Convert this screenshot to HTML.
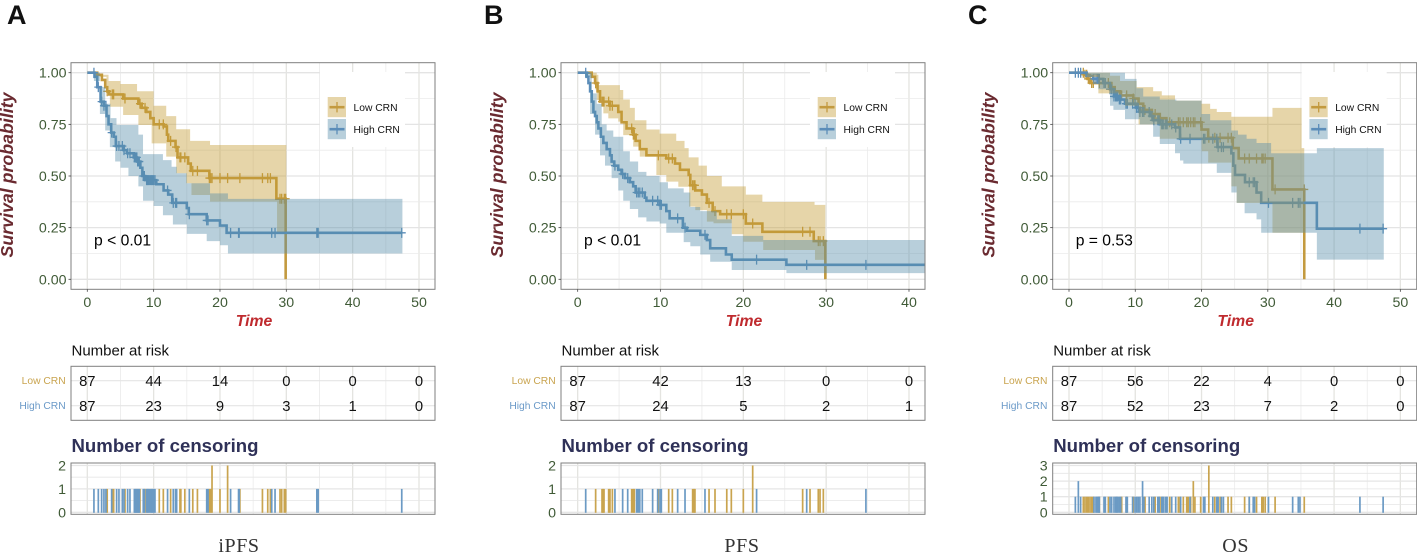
<!DOCTYPE html>
<html>
<head>
<meta charset="utf-8">
<title>Survival curves by CRN group</title>
<style>
html,body{margin:0;padding:0;background:#fff;width:1417px;height:555px;overflow:hidden}
svg{display:block;filter:blur(0.3px)}
text{font-family:"Liberation Sans",sans-serif}
.ser{font-family:"Liberation Serif",serif;font-size:20px;fill:#333;text-anchor:middle;letter-spacing:.6px}
.letter{font-size:27px;font-weight:bold;fill:#111}
.ytitle{font-size:17.8px;font-weight:bold;font-style:italic;fill:#6a2a30;text-anchor:middle}
.xtitle{font-size:15.8px;font-weight:bold;font-style:italic;fill:#bf2a2e;text-anchor:middle}
.risk-title{font-size:15px;fill:#111}
.cens-title{font-size:18.6px;font-weight:bold;fill:#2f3158}
.pval{font-size:15.7px;fill:#000}
.leg{font-size:10.3px;fill:#111}
.rl{font-size:10.3px;text-anchor:end}
</style>
</head>
<body>
<svg id="fig" width="1417" height="555" viewBox="0 0 1417 555" xmlns="http://www.w3.org/2000/svg">
  <defs>
    <clipPath id="clip-plot"><rect x="71" y="62.7" width="364" height="226.6"/></clipPath>
  </defs>
  <text class="letter" x="7" y="24">A</text>
  <text class="letter" x="484" y="24">B</text>
  <text class="letter" x="968" y="24">C</text>
  <g id="panel-a" transform="translate(0,0)">
    <text class="ytitle" transform="translate(13,175) rotate(-90)">Survival probability</text>
    <text class="xtitle" x="254" y="326">Time</text>
    <text class="risk-title" x="71.5" y="355.5">Number at risk</text>
    <text class="cens-title" x="71.5" y="452">Number of censoring</text>
    <text class="rl" x="65.7" y="384" fill="#c9a44f">Low CRN</text>
    <text class="rl" x="65.7" y="409" fill="#6b9ac8">High CRN</text>
    <text class="ser" x="239" y="552">iPFS</text>
  </g>
  <g id="panel-b" transform="translate(490,0)">
    <text class="ytitle" transform="translate(13,175) rotate(-90)">Survival probability</text>
    <text class="xtitle" x="254" y="326">Time</text>
    <text class="risk-title" x="71.5" y="355.5">Number at risk</text>
    <text class="cens-title" x="71.5" y="452">Number of censoring</text>
    <text class="rl" x="65.7" y="384" fill="#c9a44f">Low CRN</text>
    <text class="rl" x="65.7" y="409" fill="#6b9ac8">High CRN</text>
    <text class="ser" x="252" y="552">PFS</text>
  </g>
  <g id="panel-c" transform="translate(981.7,0)">
    <text class="ytitle" transform="translate(13,175) rotate(-90)">Survival probability</text>
    <text class="xtitle" x="254" y="326">Time</text>
    <text class="risk-title" x="71.5" y="355.5">Number at risk</text>
    <text class="cens-title" x="71.5" y="452">Number of censoring</text>
    <text class="rl" x="65.7" y="384" fill="#c9a44f">Low CRN</text>
    <text class="rl" x="65.7" y="409" fill="#6b9ac8">High CRN</text>
    <text class="ser" x="254" y="552">OS</text>
  </g>
</svg>
<script>
/* ---------- shared axis labels ---------- */
const survivalTicks = [0, 0.25, 0.5, 0.75, 1];
const survivalTickLabels = ["0.00", "0.25", "0.50", "0.75", "1.00"];

/* ---------- Panel A: iPFS ---------- */
const aTimeTicks = [0, 10, 20, 30, 40, 50];
const aRiskLow = [87, 44, 14, 0, 0, 0];
const aRiskHigh = [87, 23, 9, 3, 1, 0];
const aCensorTicks = [0, 1, 2];
const aLowT = [1.5, 2.2, 2.7, 3, 3.3, 5.4, 7.7, 8.2, 8.9, 9.5, 10, 11.5, 12, 12.2, 13.3, 13.6, 15.2, 15.6, 18.4, 28.5, 29.9];
const aLowS = [0.99, 0.965, 0.93, 0.91, 0.895, 0.875, 0.85, 0.83, 0.81, 0.78, 0.75, 0.74, 0.7, 0.67, 0.64, 0.59, 0.56, 0.525, 0.49, 0.39, 0];
const aHighT = [1.1, 1.5, 2, 2.5, 2.9, 3.2, 3.6, 4, 4.3, 5.5, 6, 7, 7.5, 8, 8.3, 8.7, 10.4, 11.5, 12.2, 12.8, 15, 15.3, 18, 20, 21, 47.5];
const aHighS = [0.98, 0.93, 0.86, 0.84, 0.79, 0.75, 0.71, 0.69, 0.645, 0.625, 0.61, 0.59, 0.57, 0.54, 0.5, 0.48, 0.46, 0.43, 0.41, 0.37, 0.345, 0.315, 0.285, 0.26, 0.225, 0.225];
const aLowUpT = [0, 1.9, 3.2, 5, 7.5, 10, 11.9, 13.4, 15.5, 18.5, 30];
const aLowUp = [1, 0.99, 0.96, 0.945, 0.91, 0.84, 0.79, 0.726, 0.67, 0.65, 0.65];
const aLowLoT = [0, 1.9, 2.9, 3.4, 5.4, 7.7, 9.7, 11.9, 13.4, 14.9, 15.7, 18.5, 28.6, 30];
const aLowLo = [1, 0.98, 0.9, 0.835, 0.795, 0.747, 0.658, 0.594, 0.513, 0.465, 0.408, 0.376, 0.23, 0.23];
const aHighUpT = [0, 1.9, 2.7, 3.5, 4.4, 7.7, 8.4, 11.4, 12.7, 13.5, 15, 18.5, 21.2, 47.5];
const aHighUp = [1, 0.93, 0.85, 0.78, 0.747, 0.7, 0.606, 0.577, 0.545, 0.513, 0.465, 0.416, 0.389, 0.389];
const aHighLoT = [0, 1, 1.9, 2.7, 3.4, 4.2, 5, 6.2, 7.7, 8.4, 10, 11.4, 12.9, 15, 18, 20, 21.2, 47.5];
const aHighLo = [1, 0.96, 0.8, 0.72, 0.64, 0.57, 0.54, 0.5, 0.45, 0.38, 0.355, 0.31, 0.265, 0.22, 0.185, 0.165, 0.125, 0.125];
const aLowCensor = [3, 3.77, 3.97, 5.68, 7.94, 8.7, 10.85, 11.46, 12.56, 13.37, 13.97, 14.1, 14.7, 15.9, 16.6, 18.4, 18.6, 18.8, 18.8, 20, 21.15, 21.15, 23, 26.4, 27.2, 27.6, 29.05, 29.3, 29.7, 29.9];
const aHighCensor = [1, 1.66, 2.16, 2.51, 2.81, 3.67, 4.42, 4.77, 5.28, 5.53, 6.08, 6.43, 7.09, 7.22, 7.34, 7.47, 7.59, 7.72, 7.84, 8.44, 8.6, 8.94, 9.05, 9.2, 9.35, 9.55, 9.7, 9.85, 10, 10.2, 12.1, 12.96, 13.3, 13.47, 15.38, 18, 18.2, 21.6, 22.8, 22.9, 27.8, 28.3, 34.6, 34.8, 47.4];

/* ---------- Panel B: PFS ---------- */
const bTimeTicks = [0, 10, 20, 30, 40];
const bRiskLow = [87, 42, 13, 0, 0];
const bRiskHigh = [87, 24, 5, 2, 1];
const bCensorTicks = [0, 1, 2];
const bLowT = [1.5, 1.7, 2.1, 2.4, 2.7, 3.9, 4.9, 5.3, 5.9, 6.7, 7, 7.5, 8.3, 10.7, 11.75, 12.35, 13.4, 13.6, 14.2, 15, 15.6, 16.3, 17.2, 20.3, 22.3, 28.5, 29.9];
const bLowS = [1, 0.98, 0.95, 0.91, 0.86, 0.84, 0.81, 0.76, 0.73, 0.7, 0.67, 0.63, 0.6, 0.585, 0.56, 0.53, 0.505, 0.455, 0.43, 0.41, 0.37, 0.33, 0.315, 0.27, 0.23, 0.185, 0];
const bHighT = [0.9, 1.1, 1.3, 1.5, 1.7, 1.9, 2.1, 2.3, 2.5, 2.8, 3.1, 3.5, 3.9, 4.1, 4.4, 4.9, 5.3, 5.7, 6.3, 6.7, 7, 8.1, 8.3, 9.9, 10.7, 11.1, 12.7, 13.2, 14.8, 15.6, 16, 17.9, 18.6, 25.2, 42];
const bHighS = [1, 0.98, 0.95, 0.91, 0.86, 0.81, 0.79, 0.76, 0.73, 0.69, 0.66, 0.63, 0.6, 0.57, 0.55, 0.53, 0.51, 0.49, 0.47, 0.45, 0.42, 0.395, 0.38, 0.36, 0.33, 0.295, 0.25, 0.235, 0.215, 0.19, 0.15, 0.12, 0.095, 0.07, 0.07];
const bLowUpT = [0, 2.3, 2.5, 5.1, 5.5, 6.3, 6.9, 8.3, 9.9, 11.9, 12.9, 13.4, 14.6, 15.6, 17.4, 20.3, 22.3, 28.6, 29.9];
const bLowUp = [1, 0.99, 0.94, 0.916, 0.87, 0.83, 0.77, 0.725, 0.705, 0.67, 0.635, 0.59, 0.55, 0.5, 0.45, 0.41, 0.375, 0.36, 0.36];
const bLowLoT = [0, 1.7, 2.1, 2.3, 3.1, 3.7, 4.9, 5.5, 6.7, 7.5, 9.5, 10.7, 12.15, 13.45, 14.2, 15.6, 16.4, 18.6, 20, 22.4, 28.65, 29.9];
const bLowLo = [1, 0.98, 0.92, 0.868, 0.803, 0.779, 0.763, 0.698, 0.642, 0.594, 0.505, 0.473, 0.448, 0.352, 0.335, 0.279, 0.271, 0.218, 0.182, 0.142, 0.094, 0.094];
const bHighUpT = [0, 1.7, 2.3, 2.9, 3.5, 4.3, 5.5, 6.3, 7.3, 8.3, 9.9, 10.9, 12.8, 13.6, 14.8, 16.8, 18.6, 22.4, 42];
const bHighUp = [1, 0.9, 0.85, 0.75, 0.72, 0.69, 0.62, 0.57, 0.52, 0.5, 0.47, 0.44, 0.42, 0.35, 0.33, 0.29, 0.21, 0.19, 0.19];
const bHighLoT = [0, 0.9, 1.5, 2.1, 2.7, 3.3, 4.1, 4.9, 5.5, 6.3, 7.3, 8.3, 9.9, 10.7, 12.8, 13.6, 14.8, 16, 18.6, 25.2, 42];
const bHighLo = [1, 0.98, 0.8, 0.7, 0.6, 0.55, 0.49, 0.43, 0.38, 0.34, 0.3, 0.28, 0.27, 0.225, 0.18, 0.16, 0.12, 0.085, 0.045, 0.03, 0.03];
const bLowCensor = [2.17, 2.94, 3.06, 3.18, 3.74, 3.9, 4.19, 6.52, 6.72, 6.84, 9.74, 10.99, 11.43, 13.88, 14.04, 14.16, 15.86, 16.58, 18, 18.55, 20, 21.13, 21.13, 27.16, 28.05, 29.05, 29.26, 29.66];
const bHighCensor = [0.97, 4.5, 5.43, 6.04, 7.12, 7.32, 7.5, 7.8, 9.05, 9.66, 9.94, 10.1, 12.07, 12.96, 15.37, 21.6, 27.65, 34.8];

/* ---------- Panel C: OS ---------- */
const cTimeTicks = [0, 10, 20, 30, 40, 50];
const cRiskLow = [87, 56, 22, 4, 0, 0];
const cRiskHigh = [87, 52, 23, 7, 2, 0];
const cCensorTicks = [0, 1, 2, 3];
const cLowT = [2.4, 2.8, 3.2, 6.4, 6.9, 7.7, 9.7, 10.5, 11.2, 12.5, 13.7, 14.7, 20, 21, 24.7, 25.6, 30.7, 35.5];
const cLowS = [0.99, 0.97, 0.95, 0.93, 0.91, 0.89, 0.875, 0.85, 0.82, 0.8, 0.78, 0.76, 0.725, 0.685, 0.635, 0.585, 0.435, 0];
const cHighT = [2.67, 3.67, 5.18, 6.19, 6.79, 7.44, 8.45, 10.2, 10.7, 12.2, 12.7, 13.7, 16, 16.75, 22.4, 24.5, 24.8, 25.05, 26.56, 28.3, 29, 37.4, 47.5];
const cHighS = [0.985, 0.97, 0.95, 0.92, 0.885, 0.87, 0.85, 0.83, 0.81, 0.79, 0.77, 0.75, 0.735, 0.68, 0.64, 0.61, 0.55, 0.505, 0.47, 0.42, 0.37, 0.245, 0.245];
const cLowUpT = [1.8, 6.19, 7.7, 10.2, 12.7, 14, 16, 20, 21.3, 22.3, 24.5, 30.7, 35.1, 35.5];
const cLowUp = [1, 0.985, 0.96, 0.93, 0.91, 0.89, 0.865, 0.85, 0.825, 0.81, 0.787, 0.83, 0.635, 0.635];
const cLowLoT = [1.8, 2.67, 4.43, 8.45, 10.5, 13.7, 20, 21, 24.5, 25.3, 30.7, 35.5];
const cLowLo = [1, 0.98, 0.9, 0.84, 0.75, 0.68, 0.62, 0.565, 0.45, 0.37, 0.225, 0.225];
const cHighUpT = [0.9, 8.45, 10.2, 11.2, 13.7, 16.2, 20, 21.3, 24.5, 25.5, 26.8, 28.3, 30.5, 37.4, 47.5];
const cHighUp = [1, 0.97, 0.925, 0.885, 0.87, 0.865, 0.8, 0.77, 0.72, 0.7, 0.68, 0.66, 0.61, 0.635, 0.635];
const cHighLoT = [0.9, 2.16, 4.43, 6.19, 6.7, 8.45, 10.7, 12.7, 13.7, 16, 16.75, 17.25, 22.3, 24.5, 25.3, 26.5, 28.3, 29, 37.4, 47.5];
const cHighLo = [1, 0.99, 0.92, 0.84, 0.82, 0.775, 0.75, 0.69, 0.655, 0.61, 0.575, 0.56, 0.515, 0.42, 0.37, 0.32, 0.29, 0.225, 0.095, 0.095];
const cLowCensor = [2.16, 2.41, 2.67, 2.92, 3.17, 3.42, 3.67, 4.58, 5.94, 7.95, 8.7, 9.7, 11.47, 13, 13.73, 15.2, 16.5, 16.75, 17.25, 17.76, 18, 18.36, 18.76, 18.76, 19, 19.87, 21.1, 21.1, 21.1, 22, 22.8, 24, 24.5, 26.5, 27.2, 28.3, 29.1, 29.3, 29.6, 31.1, 35.5];
const cHighCensor = [0.96, 1.41, 1.41, 1.76, 3.77, 4.07, 4.28, 4.43, 4.58, 5.28, 5.48, 6.19, 6.44, 6.79, 7.04, 7.19, 7.34, 7.6, 7.8, 8.6, 8.8, 9.6, 9.96, 10.2, 10.46, 10.7, 11.1, 11.1, 11.3, 12.1, 12.5, 12.8, 13.4, 13.6, 14, 14.1, 14.3, 14.6, 14.8, 15.5, 16.1, 16.85, 18.26, 20.3, 20.5, 21.7, 22.3, 22.5, 23, 23.3, 27.2, 27.8, 28, 30.1, 33.75, 34.6, 34.85, 43.9, 47.4];

/* ---------- drawing ---------- */
const NS = "http://www.w3.org/2000/svg";
const GOLD = "#c39a3f", BLUE = "#5b8db9";
const GOLD_BAND = "rgba(196,154,50,.42)", BLUE_BAND = "rgba(85,140,170,.42)";
const PLOT = {l: 71, r: 435, t: 62.7, b: 289.3};
const RISK = {t: 366.3, b: 420.3, low: 380.7, high: 405.7};
const CENS = {t: 463, b: 514.3, y0: 512.3};

function mk(parent, tag, attrs, name, text) {
  const el = document.createElementNS(NS, tag);
  for (const k in attrs) el.setAttribute(k, attrs[k]);
  
  
  if (text !== undefined) el.textContent = text;
  parent.appendChild(el);
  return el;
}
function stepLine(t, s, xf, yf, start) {
  let d = "M" + xf(start) + " " + yf(1);
  for (let i = 0; i < t.length; i++) d += "H" + xf(t[i]).toFixed(2) + "V" + yf(s[i]).toFixed(2);
  return d;
}
function bandPath(upT, up, loT, lo, xf, yf) {
  let d = "M" + xf(upT[0]).toFixed(2) + " " + yf(up[0]).toFixed(2);
  for (let i = 1; i < upT.length; i++) d += "H" + xf(upT[i]).toFixed(2) + "V" + yf(up[i]).toFixed(2);
  const end = loT.length - 1;
  d += "V" + yf(lo[end]).toFixed(2);
  for (let i = end - 1; i >= 0; i--) d += "H" + xf(loT[i + 1]).toFixed(2) + "V" + yf(lo[i]).toFixed(2);
  d += "H" + xf(loT[0]).toFixed(2) + "Z";
  return d;
}
function survAt(t, times, vals) {
  let v = 1;
  for (let i = 0; i < times.length; i++) { if (times[i] <= t) { if (vals[i] > 0) v = vals[i]; } else break; }
  return v;
}
function counts(arr) {
  const m = new Map();
  arr.forEach(v => m.set(v, (m.get(v) || 0) + 1));
  return m;
}
function vGrid(g, ticks, xf, minorStep, xMax, top, bot) {
  for (let v = minorStep; v <= xMax; v += 2 * minorStep) {
    const x = xf(v);
    if (x < PLOT.r) mk(g, "line", {x1: x, x2: x, y1: top, y2: bot, stroke: "#ebebeb", "stroke-width": 0.8}, "minor-gridline");
  }
  ticks.forEach(v => {
    mk(g, "line", {x1: xf(v), x2: xf(v), y1: top, y2: bot, stroke: "#e4e4e0", "stroke-width": 1.3}, "major-gridline");
  });
}

function drawPanel(id, cfg) {
  const g = document.getElementById(id);
  const xf = v => cfg.x0 + v * cfg.ux;
  const yf = v => 279.3 - v * 206.6;

  /* survival plot grid */
  const grid = mk(g, "g", {}, "survival-grid");
  vGrid(grid, cfg.ticks, xf, 5, cfg.xMax, PLOT.t, PLOT.b);
  [0.125, 0.375, 0.625, 0.875].forEach(v => {
    mk(grid, "line", {x1: PLOT.l, x2: PLOT.r, y1: yf(v), y2: yf(v), stroke: "#ebebeb", "stroke-width": 0.8}, "minor-gridline");
  });
  survivalTicks.forEach(v => {
    mk(grid, "line", {x1: PLOT.l, x2: PLOT.r, y1: yf(v), y2: yf(v), stroke: "#e4e4e4", "stroke-width": 1.3}, "major-gridline");
  });
  mk(g, "rect", {x: 320, y: 72, width: 85, height: 75, fill: "#fff"}, "legend-background");

  /* series */
  const series = mk(g, "g", {"clip-path": "url(#clip-plot)"}, "survival-series");
  [[cfg.lowT, cfg.lowS, cfg.lowC, GOLD, "low-crn"], [cfg.highT, cfg.highS, cfg.highC, BLUE, "high-crn"]].forEach(s => {
    mk(series, "path", {d: stepLine(s[0], s[1], xf, yf, 0), fill: "none", stroke: s[3], "stroke-width": 2.6}, s[4] + "-survival-line");
    counts(s[2]).forEach((n, t) => {
      const y = yf(survAt(t, s[0], s[1]));
      const x = xf(t);
      mk(series, "path", {d: "M" + (x - 4) + " " + y + "H" + (x + 4) + "M" + x + " " + (y - 5) + "V" + (y + 5), fill: "none", stroke: s[3], "stroke-width": 1.3}, s[4] + "-censor-mark");
    });
  });
  mk(series, "path", {d: bandPath(cfg.lowUpT, cfg.lowUp, cfg.lowLoT, cfg.lowLo, xf, yf), fill: GOLD_BAND}, "low-crn-confidence-band");
  mk(series, "path", {d: bandPath(cfg.highUpT, cfg.highUp, cfg.highLoT, cfg.highLo, xf, yf), fill: BLUE_BAND}, "high-crn-confidence-band");

  /* frame and axes */
  mk(g, "rect", {x: PLOT.l, y: PLOT.t, width: PLOT.r - PLOT.l, height: PLOT.b - PLOT.t, fill: "none", stroke: "#7f7f7f", "stroke-width": 1}, "plot-frame");
  survivalTicks.forEach((v, i) => {
    mk(g, "line", {x1: PLOT.l - 2.5, x2: PLOT.l, y1: yf(v), y2: yf(v), stroke: "#444", "stroke-width": 0.8}, "y-axis-tick");
    mk(g, "text", {x: 66.5, y: yf(v) + 5, "text-anchor": "end", "font-size": 14.2, fill: "#3f5a36"}, "y-tick-label", survivalTickLabels[i]);
  });
  cfg.ticks.forEach(v => {
    mk(g, "line", {x1: xf(v), x2: xf(v), y1: PLOT.b, y2: PLOT.b + 2.5, stroke: "#444", "stroke-width": 0.8}, "x-axis-tick");
    mk(g, "text", {x: xf(v), y: 307, "text-anchor": "middle", "font-size": 14.2, fill: "#3f5a36"}, "x-tick-label", String(v));
  });
  mk(g, "text", {class: "pval", x: 94, y: 245.5}, "p-value", cfg.p);

  /* legend */
  [["Low CRN", 97, GOLD, GOLD_BAND, "legend-low-crn"], ["High CRN", 119, BLUE, BLUE_BAND, "legend-high-crn"]].forEach(l => {
    const e = mk(g, "g", {}, l[4]);
    mk(e, "rect", {x: 327.7, y: l[1], width: 18.3, height: 20.2, fill: l[3]}, "legend-key");
    mk(e, "path", {d: "M329.5 " + (l[1] + 10.2) + "H344.5", stroke: l[2], "stroke-width": 2.6, fill: "none"}, "legend-line");
    mk(e, "path", {d: "M337 " + (l[1] + 5) + "V" + (l[1] + 15.4), stroke: l[2], "stroke-width": 1.3, fill: "none"}, "legend-mark");
    mk(e, "text", {class: "leg", x: 353.5, y: l[1] + 14}, "legend-label", l[0]);
  });

  /* risk table */
  const risk = mk(g, "g", {}, "risk-table");
  vGrid(risk, cfg.ticks, xf, 5, cfg.xMax, RISK.t, RISK.b);
  [RISK.low, RISK.high].forEach(y => {
    mk(risk, "line", {x1: PLOT.l, x2: PLOT.r, y1: y, y2: y, stroke: "#e4e4e4", "stroke-width": 1.2}, "risk-row-gridline");
  });
  mk(risk, "rect", {x: PLOT.l, y: RISK.t, width: PLOT.r - PLOT.l, height: RISK.b - RISK.t, fill: "none", stroke: "#7f7f7f", "stroke-width": 1}, "risk-table-frame");
  cfg.ticks.forEach((v, i) => {
    mk(risk, "text", {x: Math.min(xf(v), 419.5), y: RISK.low + 5.3, "text-anchor": "middle", "font-size": 14.8, fill: "#111"}, "risk-count-low", String(cfg.riskLow[i]));
    mk(risk, "text", {x: Math.min(xf(v), 419.5), y: RISK.high + 5.3, "text-anchor": "middle", "font-size": 14.8, fill: "#111"}, "risk-count-high", String(cfg.riskHigh[i]));
  });

  /* censoring plot */
  const cens = mk(g, "g", {}, "censoring-plot");
  const yMax = cfg.cTicks[cfg.cTicks.length - 1];
  const cu = (CENS.y0 - 465.5) / yMax;
  const cy = v => CENS.y0 - v * cu;
  vGrid(cens, cfg.ticks, xf, 5, cfg.xMax, CENS.t, CENS.b);
  for (let v = 0; v <= yMax; v += 0.5) {
    mk(cens, "line", {x1: PLOT.l, x2: PLOT.r, y1: cy(v), y2: cy(v), stroke: "#e6e6e6", "stroke-width": v % 1 ? 0.8 : 1.3}, "censoring-gridline");
  }
  [[cfg.lowC, "#c9a44f", "low-crn"], [cfg.highC, "#6b9ac4", "high-crn"]].forEach(s => {
    counts(s[0]).forEach((n, t) => {
      mk(cens, "line", {x1: xf(t), x2: xf(t), y1: CENS.y0 + 0.5, y2: cy(n), stroke: s[1], "stroke-width": 1.7}, s[2] + "-censoring-bar");
    });
  });
  mk(cens, "rect", {x: PLOT.l, y: CENS.t, width: PLOT.r - PLOT.l, height: CENS.b - CENS.t, fill: "none", stroke: "#7f7f7f", "stroke-width": 1}, "censoring-frame");
  cfg.cTicks.forEach(v => {
    mk(cens, "text", {x: 66, y: Math.max(cy(v) + 5, 470), "text-anchor": "end", "font-size": 14.2, fill: "#3f5a36"}, "censoring-tick-label", String(v));
  });
}

drawPanel("panel-a", {x0: 87.3, ux: 6.634, xMax: 50, ticks: aTimeTicks, p: "p < 0.01",
  lowT: aLowT, lowS: aLowS, highT: aHighT, highS: aHighS, lowC: aLowCensor, highC: aHighCensor,
  lowUpT: aLowUpT, lowUp: aLowUp, lowLoT: aLowLoT, lowLo: aLowLo,
  highUpT: aHighUpT, highUp: aHighUp, highLoT: aHighLoT, highLo: aHighLo,
  riskLow: aRiskLow, riskHigh: aRiskHigh, cTicks: aCensorTicks});
drawPanel("panel-b", {x0: 87.67, ux: 8.283, xMax: 42, ticks: bTimeTicks, p: "p < 0.01",
  lowT: bLowT, lowS: bLowS, highT: bHighT, highS: bHighS, lowC: bLowCensor, highC: bHighCensor,
  lowUpT: bLowUpT, lowUp: bLowUp, lowLoT: bLowLoT, lowLo: bLowLo,
  highUpT: bHighUpT, highUp: bHighUp, highLoT: bHighLoT, highLo: bHighLo,
  riskLow: bRiskLow, riskHigh: bRiskHigh, cTicks: bCensorTicks});
drawPanel("panel-c", {x0: 87.3, ux: 6.627, xMax: 50, ticks: cTimeTicks, p: "p = 0.53",
  lowT: cLowT, lowS: cLowS, highT: cHighT, highS: cHighS, lowC: cLowCensor, highC: cHighCensor,
  lowUpT: cLowUpT, lowUp: cLowUp, lowLoT: cLowLoT, lowLo: cLowLo,
  highUpT: cHighUpT, highUp: cHighUp, highLoT: cHighLoT, highLo: cHighLo,
  riskLow: cRiskLow, riskHigh: cRiskHigh, cTicks: cCensorTicks});
</script>
</body>
</html>
